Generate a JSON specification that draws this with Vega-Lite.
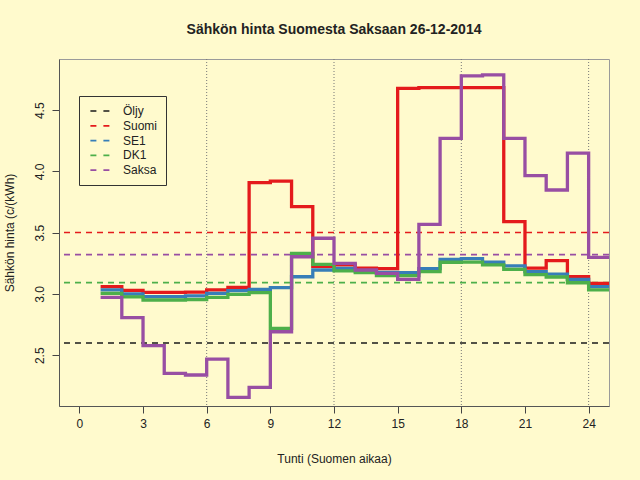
{
  "$schema": "https://vega.github.io/schema/vega-lite/v6.json",
  "width": 550,
  "height": 347,
  "autosize": {"type": "none"},
  "padding": {"left": 59, "top": 59, "right": 31, "bottom": 74},
  "background": "#FFFACD",
  "config": {
    "font": "Liberation Sans",
    "view": {"stroke": "#9a9a9a", "strokeWidth": 1},
    "axis": {
      "labelFontSize": 12,
      "titleFontSize": 12,
      "labelColor": "#222222",
      "titleColor": "#222222",
      "titleFontWeight": "normal",
      "tickColor": "#444444",
      "tickSize": 7,
      "domainColor": "#555555",
      "grid": false
    }
  },
  "title": {
    "text": "Sähkön hinta Suomesta Saksaan 26-12-2014",
    "fontSize": 14,
    "fontWeight": "bold",
    "color": "#222222",
    "anchor": "middle",
    "offset": 22
  },
  "datasets": {
    "grid": [{"hour": 6}, {"hour": 12}, {"hour": 18}, {"hour": 24}],
    "means": [
      {"series": "Öljy", "mean": 2.6},
      {"series": "Suomi", "mean": 3.502},
      {"series": "DK1", "mean": 3.093},
      {"series": "Saksa", "mean": 3.321}
    ],
    "prices": [
      {"hour": 1, "Suomi": 3.060, "SE1": 3.033, "DK1": 3.005, "Saksa": 2.973},
      {"hour": 2, "Suomi": 3.030, "SE1": 3.000, "DK1": 2.976, "Saksa": 2.807},
      {"hour": 3, "Suomi": 3.014, "SE1": 2.978, "DK1": 2.951, "Saksa": 2.578},
      {"hour": 4, "Suomi": 3.014, "SE1": 2.978, "DK1": 2.951, "Saksa": 2.353},
      {"hour": 5, "Suomi": 3.016, "SE1": 2.984, "DK1": 2.954, "Saksa": 2.339},
      {"hour": 6, "Suomi": 3.033, "SE1": 3.005, "DK1": 2.973, "Saksa": 2.469},
      {"hour": 7, "Suomi": 3.054, "SE1": 3.027, "DK1": 2.997, "Saksa": 2.157},
      {"hour": 8, "Suomi": 3.909, "SE1": 3.038, "DK1": 3.011, "Saksa": 2.238},
      {"hour": 9, "Suomi": 3.922, "SE1": 3.052, "DK1": 2.720, "Saksa": 2.692},
      {"hour": 10, "Suomi": 3.713, "SE1": 3.141, "DK1": 3.332, "Saksa": 3.304},
      {"hour": 11, "Suomi": 3.226, "SE1": 3.196, "DK1": 3.242, "Saksa": 3.455},
      {"hour": 12, "Suomi": 3.237, "SE1": 3.210, "DK1": 3.188, "Saksa": 3.250},
      {"hour": 13, "Suomi": 3.212, "SE1": 3.190, "DK1": 3.174, "Saksa": 3.196},
      {"hour": 14, "Suomi": 3.207, "SE1": 3.177, "DK1": 3.150, "Saksa": 3.168},
      {"hour": 15, "Suomi": 4.679, "SE1": 3.175, "DK1": 3.150, "Saksa": 3.120},
      {"hour": 16, "Suomi": 4.684, "SE1": 3.207, "DK1": 3.182, "Saksa": 3.569},
      {"hour": 17, "Suomi": 4.684, "SE1": 3.283, "DK1": 3.259, "Saksa": 4.271},
      {"hour": 18, "Suomi": 4.684, "SE1": 3.288, "DK1": 3.261, "Saksa": 4.780},
      {"hour": 19, "Suomi": 4.684, "SE1": 3.259, "DK1": 3.237, "Saksa": 4.788},
      {"hour": 20, "Suomi": 3.590, "SE1": 3.229, "DK1": 3.201, "Saksa": 4.271},
      {"hour": 21, "Suomi": 3.212, "SE1": 3.182, "DK1": 3.158, "Saksa": 3.966},
      {"hour": 22, "Suomi": 3.272, "SE1": 3.163, "DK1": 3.139, "Saksa": 3.849},
      {"hour": 23, "Suomi": 3.141, "SE1": 3.120, "DK1": 3.092, "Saksa": 4.149},
      {"hour": 24, "Suomi": 3.087, "SE1": 3.060, "DK1": 3.033, "Saksa": 3.299},
      {"hour": 25, "Suomi": 3.087, "SE1": 3.060, "DK1": 3.033, "Saksa": 3.299}
    ]
  },
  "layer": [
    {
      "data": {"name": "grid"},
      "mark": {"type": "rule", "color": "#777777", "strokeWidth": 1, "strokeDash": [1, 2]},
      "encoding": {
        "x": {"field": "hour", "type": "quantitative", "scale": {"domain": [-0.96, 24.96], "nice": false, "zero": false}}
      }
    },
    {
      "data": {"name": "means"},
      "mark": {"type": "rule", "strokeWidth": 1.7, "strokeDash": [6, 5]},
      "encoding": {
        "y": {"field": "mean", "type": "quantitative"},
        "color": {
          "field": "series",
          "type": "nominal",
          "scale": {
            "domain": ["Öljy", "Suomi", "SE1", "DK1", "Saksa"],
            "range": ["#1a1a1a", "#E41A1C", "#377EB8", "#4DAF4A", "#984EA3"]
          },
          "legend": {
            "title": null,
            "orient": "none",
            "legendX": 20,
            "legendY": 37,
            "padding": 8,
            "strokeColor": "#333333",
            "fillColor": "#FFFACD",
            "symbolType": "M-1.6,0H1.6",
            "symbolSize": 144,
            "symbolStrokeWidth": 1.7,
            "symbolDash": [6, 7],
            "symbolOffset": 6,
            "labelOffset": 16,
            "labelFontSize": 12,
            "labelColor": "#222222",
            "rowPadding": 1.8
          }
        }
      }
    },
    {
      "data": {"name": "prices"},
      "transform": [{"fold": ["Suomi", "SE1", "DK1", "Saksa"], "as": ["series", "price"]}],
      "mark": {"type": "line", "interpolate": "step-after", "strokeWidth": 3.3, "clip": true},
      "encoding": {
        "x": {
          "field": "hour",
          "type": "quantitative",
          "scale": {"domain": [-0.96, 24.96], "nice": false, "zero": false},
          "axis": {
            "values": [0, 3, 6, 9, 12, 15, 18, 21, 24],
            "title": "Tunti (Suomen aikaa)",
            "labelPadding": 5,
            "titleY": 52,
            "titleBaseline": "middle"
          }
        },
        "y": {
          "field": "price",
          "type": "quantitative",
          "scale": {"domain": [2.086, 4.918], "nice": false, "zero": false},
          "axis": {
            "values": [2.5, 3.0, 3.5, 4.0, 4.5],
            "format": ".1f",
            "title": "Sähkön hinta (c/(kWh)",
            "labelAngle": -90,
            "labelAlign": "center",
            "labelBaseline": "alphabetic",
            "labelPadding": 9,
            "titleAngle": -90,
            "titleX": -50,
            "titleY": 173.5,
            "titleAlign": "center",
            "titleBaseline": "middle"
          }
        },
        "color": {"field": "series", "type": "nominal", "legend": null}
      }
    }
  ],
  "resolve": {"legend": {"color": "independent"}}
}
